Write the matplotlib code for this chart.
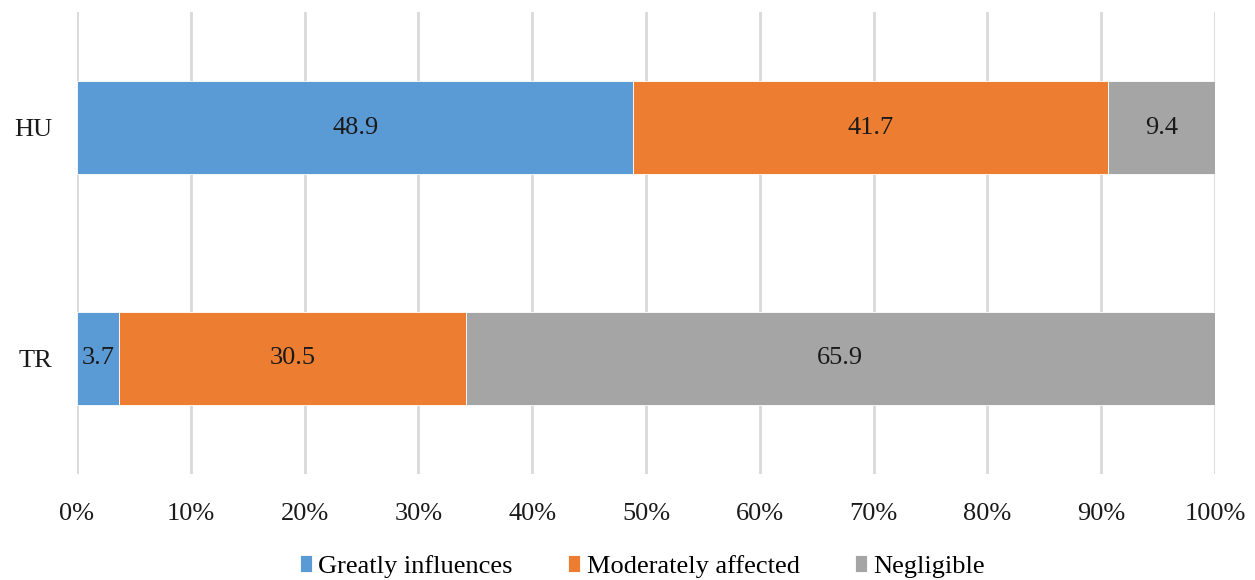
import matplotlib.pyplot as plt
import numpy as np
from matplotlib.ticker import PercentFormatter

plt.rcParams['font.family'] = ['Liberation Serif', 'DejaVu Serif']

countries = ['HU', 'TR']
series_names = ['Greatly influences', 'Moderately affected', 'Negligible']
greatly = [48.9, 3.7]
moderately = [41.7, 30.5]
negligible = [9.4, 65.9]
colors = ['#5B9BD5', '#ED7D31', '#A5A5A5']

FS = 19


def graph():
    values = np.array([greatly, moderately, negligible], dtype=float)
    shares = values / values.sum(axis=0)  # 100% stacked

    fig = plt.figure(figsize=(12.55, 5.8), dpi=100)
    ax = fig.add_axes([77 / 1255, 1 - 474 / 580, (1215 - 77) / 1255, 462 / 580])

    ypos = np.arange(len(countries))
    left = np.zeros(len(countries))
    for i, name in enumerate(series_names):
        bars = ax.barh(ypos, shares[i], left=left, height=0.4, color=colors[i],
                       edgecolor='white', linewidth=0.6, label=name, zorder=3)
        for b, v in zip(bars, values[i]):
            ax.text(b.get_x() + b.get_width() / 2, b.get_y() + b.get_height() / 2,
                    f'{v:.1f}', ha='center', va='center', fontsize=FS,
                    color='#1a1a1a', zorder=4)
        left += shares[i]

    ax.set_xlim(0, 1)
    ax.set_ylim(1.5, -0.5)
    ax.set_yticks(ypos)
    ax.set_yticklabels(countries)
    ax.set_xticks(np.linspace(0, 1, 11))
    ax.xaxis.set_major_formatter(PercentFormatter(1.0, decimals=0))
    ax.grid(axis='x', color='#D9D9D9', linewidth=2, zorder=0)
    for s in ax.spines.values():
        s.set_visible(False)
    ax.tick_params(length=0, labelsize=FS, labelcolor='#1a1a1a')
    ax.tick_params(axis='x', pad=21)
    ax.tick_params(axis='y', pad=18)

    ax.legend(loc='center', bbox_to_anchor=(0.497, -0.2), ncol=3,
              frameon=False, fontsize=FS, handlelength=0.45, handleheight=0.6,
              handletextpad=0.25, columnspacing=2.1)

    fig.savefig('out.png', dpi=100)


if __name__ == '__main__':
    graph()
